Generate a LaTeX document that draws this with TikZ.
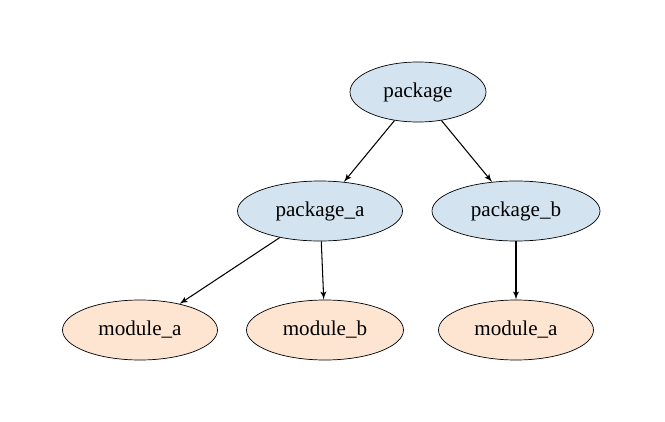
\documentclass[tikz,border=0pt]{standalone}
\usepackage{fontspec}
\setmainfont{Liberation Serif}
\usetikzlibrary{shapes, arrows, positioning}
\tikzstyle{->}  = [draw, -latex', line width=0.6pt]
\tikzstyle{pkg} = [draw, ellipse, fill=pkgblue, minimum width=3.3cm, minimum height=1.2cm, inner sep=0pt, font=\fontsize{12}{14}\selectfont]
\tikzstyle{mod} = [draw, ellipse, fill=modorange, minimum width=3.1cm, minimum height=1.2cm, inner sep=0pt, font=\fontsize{12}{14}\selectfont]
\definecolor{pkgblue}{HTML}{D3E4F0}
\definecolor{modorange}{HTML}{FDE5D2}

\begin{document}
\begin{tikzpicture}[]
\useasboundingbox (0,0) rectangle (13.3,8.42);

% nodes
\node [pkg, minimum width=2.72cm] at ( 8.36, 6.58 ) (package)  {package};
\node [pkg]                       at ( 6.40, 4.20 ) (packageA) {package\_a};
\node [pkg, minimum width=3.36cm] at (10.32, 4.20 ) (packageB) {package\_b};
\node [mod]                       at ( 2.80, 1.82 ) (moduleAA) {module\_a};
\node [mod, minimum width=3.14cm] at ( 6.50, 1.82 ) (moduleAB) {module\_b};
\node [mod]                       at (10.32, 1.82 ) (moduleBA) {module\_a};

% edges
\path [->]
  (package)  edge (packageA)
  (package)  edge (packageB)
  (packageA) edge (moduleAA)
  (packageA) edge (moduleAB)
  (packageB) edge (moduleBA);

\end{tikzpicture}
\end{document}
